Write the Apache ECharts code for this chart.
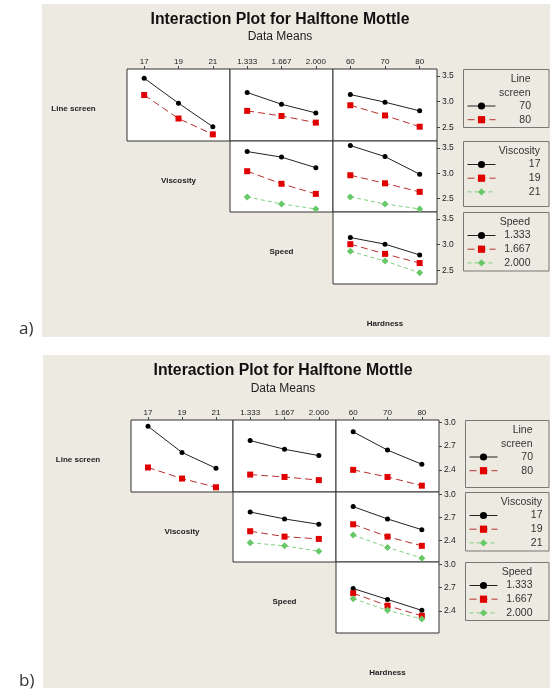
<!DOCTYPE html>
<html>
<head>
<meta charset="utf-8">
<script src="https://cdn.jsdelivr.net/npm/echarts@6/dist/echarts.min.js"></script>
<style>
  html, body { margin: 0; background: #fff; }
  #chart { width: 550px; height: 690px; }
</style>
</head>
<body>
<div id="chart"></div>
<script>
// factor levels
const viscLevels = ['17', '19', '21']
const speedLevels = ['1.333', '1.667', '2.000']
const hardLevels = ['60', '70', '80']
const screenLevels = ['70', '80']

// y tick labels of each plot
const yTicksA = [2.5, 3.0, 3.5]
const yTicksB = [2.4, 2.7, 3.0]

// a) data means, one row per level of the trace factor
const aScreenByVisc = [[3.46, 2.97, 2.51], [3.13, 2.67, 2.36]]
const aScreenBySpeed = [[3.18, 2.95, 2.78], [2.82, 2.72, 2.59]]
const aScreenByHard = [[3.14, 2.99, 2.82], [2.93, 2.73, 2.51]]
const aViscBySpeed = [[3.43, 3.32, 3.11], [3.04, 2.79, 2.59], [2.53, 2.39, 2.29]]
const aViscByHard = [[3.55, 3.33, 2.98], [2.96, 2.80, 2.63], [2.53, 2.39, 2.29]]
const aSpeedByHard = [[3.14, 3.01, 2.80], [3.01, 2.82, 2.64], [2.87, 2.68, 2.45]]

// b) data means
const bScreenByVisc = [[2.95, 2.62, 2.42], [2.43, 2.29, 2.18]]
const bScreenBySpeed = [[2.77, 2.66, 2.58], [2.34, 2.31, 2.27]]
const bScreenByHard = [[2.88, 2.65, 2.47], [2.40, 2.31, 2.20]]
const bViscBySpeed = [[2.77, 2.68, 2.61], [2.52, 2.45, 2.42], [2.37, 2.33, 2.26]]
const bViscByHard = [[2.84, 2.68, 2.54], [2.61, 2.45, 2.33], [2.47, 2.31, 2.17]]
const bSpeedByHard = [[2.69, 2.55, 2.41], [2.63, 2.47, 2.34], [2.56, 2.41, 2.30]]

const FONT = '"Liberation Sans", Arial, sans-serif'
const BG = '#edeae1'

const traceStyles = [
  { symbol: 'circle', size: 5, color: '#000', line: '#222', dash: 'solid' },
  { symbol: 'rect', size: 6, color: '#e00000', line: '#b83030', dash: [7, 4] },
  { symbol: 'diamond', size: 7, color: '#66c866', line: '#7fd07f', dash: [4, 3] }
]

const panels = [
  {
    tag: 'a)', tagY: 329, bg: [42, 4, 508, 333], titleTop: 11, subGap: 0.7,
    xs: [127, 230, 333, 437], ys: [69, 141, 212, 284],
    yMin: 2.23, yMax: 3.64, ticks: yTicksA,
    boxH: [58, 65, 58.5],
    cells: [aScreenByVisc, aScreenBySpeed, aScreenByHard, aViscBySpeed, aViscByHard, aSpeedByHard]
  },
  {
    tag: 'b)', tagY: 681, bg: [43, 355, 507, 333], titleTop: 362, subGap: 1.3,
    xs: [131, 233, 336, 439], ys: [420, 492, 562, 633],
    yMin: 2.12, yMax: 3.03, ticks: yTicksB,
    boxH: [67, 58.5, 58],
    cells: [bScreenByVisc, bScreenBySpeed, bScreenByHard, bViscBySpeed, bViscByHard, bSpeedByHard]
  }
]

const factorNames = ['Line screen', 'Viscosity', 'Speed', 'Hardness']
const traceSets = [screenLevels, viscLevels, speedLevels]
const xSets = [viscLevels, speedLevels, hardLevels]
const cellRC = [[0, 0], [0, 1], [0, 2], [1, 1], [1, 2], [2, 2]]

const grids = [], xAxes = [], yAxes = [], series = [], legends = [], titles = [], elements = []

panels.forEach(p => {
  elements.push({ type: 'rect', z: -100, shape: { x: p.bg[0], y: p.bg[1], width: p.bg[2], height: p.bg[3] }, style: { fill: BG } })
  elements.push({ type: 'text', x: 19, y: p.tagY, style: { text: p.tag, font: '17px "Open Sans", sans-serif', fill: '#333', verticalAlign: 'middle' } })

  const midX = (p.xs[0] + p.xs[3]) / 2
  titles.push({
    text: 'Interaction Plot for Halftone Mottle', subtext: 'Data Means',
    left: midX - 2, top: p.titleTop, textAlign: 'center', itemGap: p.subGap, padding: 0,
    textStyle: { fontFamily: FONT, fontWeight: 'bold', fontSize: 15.8, lineHeight: 18, color: '#111' },
    subtextStyle: { fontFamily: FONT, fontSize: 12, lineHeight: 14, color: '#222' }
  })

  cellRC.forEach(([r, c], i) => {
    const gi = grids.length
    grids.push({
      left: p.xs[c], top: p.ys[r], width: p.xs[c + 1] - p.xs[c], height: p.ys[r + 1] - p.ys[r],
      show: true, backgroundColor: '#fff', borderColor: '#333', borderWidth: 1, outerBoundsMode: 'none'
    })
    xAxes.push({
      gridIndex: gi, type: 'category', data: xSets[c], boundaryGap: true, position: 'top',
      axisLine: { show: false },
      axisTick: { show: r === 0, alignWithLabel: true, length: 3, lineStyle: { color: '#444' } },
      axisLabel: { show: r === 0, fontFamily: FONT, fontSize: 8, margin: 3, color: '#222' },
      splitLine: { show: false }
    })
    yAxes.push({
      gridIndex: gi, type: 'value', min: p.yMin, max: p.yMax, position: 'right',
      axisLine: { show: false },
      axisTick: { show: c === 2, length: 3, customValues: p.ticks, lineStyle: { color: '#444' } },
      axisLabel: { show: c === 2, customValues: p.ticks, formatter: v => v.toFixed(1), fontFamily: FONT, fontSize: 8.5, margin: 5, color: '#222' },
      splitLine: { show: false }
    })
    traceSets[r].forEach((name, k) => {
      const st = traceStyles[k]
      series.push({
        type: 'line', name, xAxisIndex: gi, yAxisIndex: gi, data: p.cells[i][k],
        symbol: st.symbol, symbolSize: st.size, animation: false,
        itemStyle: { color: st.color },
        lineStyle: { color: st.line, width: 1, type: st.dash }
      })
    })
  })

  // factor names on the diagonal
  const ch = p.ys[1] - p.ys[0]
  factorNames.forEach((f, d) => {
    const cx = d === 0 ? 2 * p.xs[0] - p.xs[1] : p.xs[d - 1]
    const cw = d === 0 ? p.xs[1] - p.xs[0] : p.xs[d] - p.xs[d - 1]
    const cy = d < 3 ? p.ys[d] : p.ys[3]
    elements.push({
      type: 'text', x: cx + cw / 2 + (d === 0 ? -2 : 0), y: cy + ch / 2 + 4,
      style: { text: f, font: 'bold 8px ' + FONT, fill: '#222', align: 'center', verticalAlign: 'middle' }
    })
  })

  // legend boxes
  const bx = p.xs[3] + 26.5
  const heads = [['Line', 'screen'], ['Viscosity'], ['Speed']]
  const rightOff = [67, 76.5, 66.5]
  heads.forEach((h, r) => {
    const top = p.ys[r] + 0.5
    elements.push({ type: 'rect', shape: { x: bx, y: top, width: 549 - bx, height: p.boxH[r] }, style: { fill: 'none', stroke: '#777', lineWidth: 1 } })
    h.forEach((t, j) => {
      elements.push({
        type: 'text', x: bx + rightOff[r], y: top + 10 + j * 13.4,
        style: { text: t, font: '10.5px ' + FONT, fill: '#333', align: 'right', verticalAlign: 'middle' }
      })
    })
    const textW = rightOff[r] - 36.5
    legends.push({
      left: bx + 3.5, top: top + (h.length === 2 ? 30 : 16.5), orient: 'vertical',
      itemWidth: 28, itemHeight: 9, itemGap: 0.7, padding: 0, selectedMode: false,
      lineStyle: { width: 1 },
      data: traceSets[r],
      formatter: n => '{r|' + n + '}',
      textStyle: {
        lineHeight: 13,
        rich: { r: { width: textW, height: 13, lineHeight: 13, align: 'right', fontFamily: FONT, fontSize: 10.5, color: '#333' } }
      }
    })
  })
})

const chart = echarts.init(document.getElementById('chart'))
chart.setOption({
  backgroundColor: '#fff',
  animation: false,
  title: titles,
  grid: grids,
  xAxis: xAxes,
  yAxis: yAxes,
  legend: legends,
  graphic: { elements },
  series
})
</script>
</body>
</html>
